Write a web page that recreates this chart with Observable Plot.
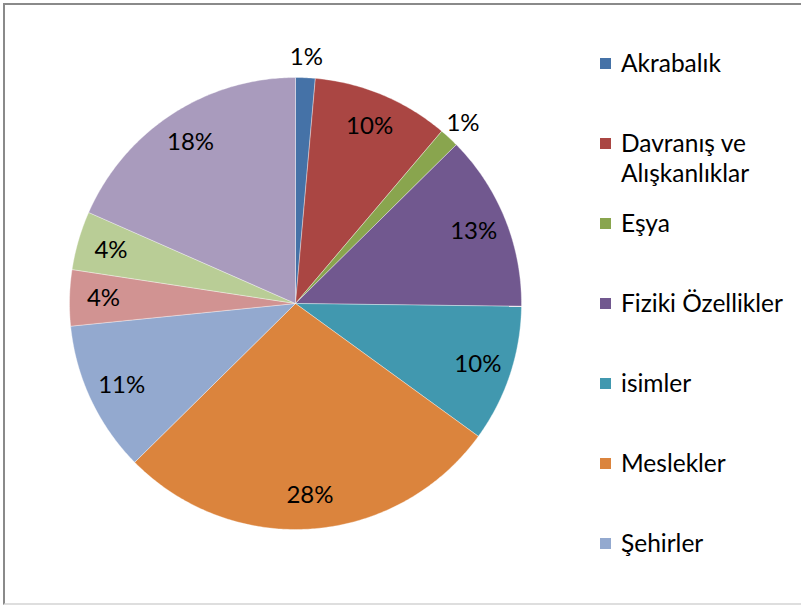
<!DOCTYPE html>
<html>
<head>
<meta charset="utf-8">
<script src="https://cdn.jsdelivr.net/npm/d3@7"></script>
<script src="https://cdn.jsdelivr.net/npm/@observablehq/plot@0.6"></script>
<style>
  html, body { margin: 0; padding: 0; background: #fff; overflow: hidden; }
  #wrap { position: relative; width: 801px; height: 605px; overflow: hidden; font-family: Lato, "Open Sans", sans-serif; }
  #frame { position: absolute; left: 3px; top: 3px; width: 805px; height: 598px;
           border-left: 2px solid #8a8a8a; border-top: 2px solid #8a8a8a; border-bottom: 2px solid #dedede; }
  #chart { position: absolute; left: 0; top: 0; }
  #legend { position: absolute; left: 600px; top: 48px; width: 200px; }
  .item { height: 80px; display: flex; align-items: flex-start; }
  .sw { width: 11px; height: 11px; margin-top: 10px; margin-right: 10px; flex: none; }
  .lab { font-size: 24.5px; line-height: 30px; color: #000; width: 180px; }
</style>
</head>
<body>
<div id="wrap">
  <div id="frame"></div>
  <div id="chart"></div>
  <div id="legend"></div>
</div>
<script>
// categories (clockwise from 12 o'clock)
const categories = ["Akrabalık", "Davranış ve Alışkanlıklar", "Eşya", "Fiziki Özellikler", "isimler",
                    "Meslekler", "Şehirler", "Kategori 8", "Kategori 9", "Kategori 10"];
// shares (percent)
const values = [1.4, 9.8, 1.4, 12.6, 9.8, 27.6, 10.8, 4.0, 4.2, 18.4];
const colors = ["#4572A7", "#AA4643", "#89A54E", "#71588F", "#4198AF",
                "#DB843D", "#93A9CF", "#D19392", "#B9CD96", "#A99BBD"];
// the legend in the reference only has room for its first seven entries
const legendCount = 7;

const total = d3.sum(values);
const slices = [];
const labels = [];
let acc = 0;
categories.forEach((key, i) => {
  const a0 = acc / total * 2 * Math.PI;
  acc += values[i];
  const a1 = acc / total * 2 * Math.PI;
  slices.push({key, x: 0, y: 0});
  const n = Math.max(2, Math.ceil((a1 - a0) / 0.01));
  for (let k = 0; k <= n; k++) {
    const t = a0 + (a1 - a0) * k / n;
    slices.push({key, x: Math.sin(t), y: Math.cos(t)});
  }
  slices.push({key, x: 0, y: 0});
  const frac = values[i] / total;
  const m = (a0 + a1) / 2;
  const r = frac < 0.02 ? 1.09 : 0.85;
  labels.push({key, x: r * Math.sin(m), y: r * Math.cos(m), text: Math.round(frac * 100) + "%"});
});

const chart = Plot.plot({
  width: 801,
  height: 605,
  margin: 0,
  style: {fontFamily: "Lato, 'Open Sans', sans-serif", background: "transparent"},
  x: {domain: [-1, 1], range: [69, 521], axis: null},
  y: {domain: [-1, 1], range: [529, 77], axis: null},
  color: {domain: categories, range: colors},
  marks: [
    Plot.line(slices, {x: "x", y: "y", z: "key", fill: "key", stroke: "#ffffff", strokeWidth: 0.6, strokeOpacity: 0.6}),
    Plot.text(labels, {x: "x", y: "y", text: "text", fontSize: 24, fill: "#000"})
  ]
});
document.getElementById("chart").appendChild(chart);

const legend = document.getElementById("legend");
categories.slice(0, legendCount).forEach((c, i) => {
  const it = document.createElement("div");
  it.className = "item";
  const sw = document.createElement("div");
  sw.className = "sw";
  sw.style.background = colors[i];
  const lab = document.createElement("div");
  lab.className = "lab";
  lab.textContent = c;
  it.appendChild(sw);
  it.appendChild(lab);
  legend.appendChild(it);
});
</script>
</body>
</html>
